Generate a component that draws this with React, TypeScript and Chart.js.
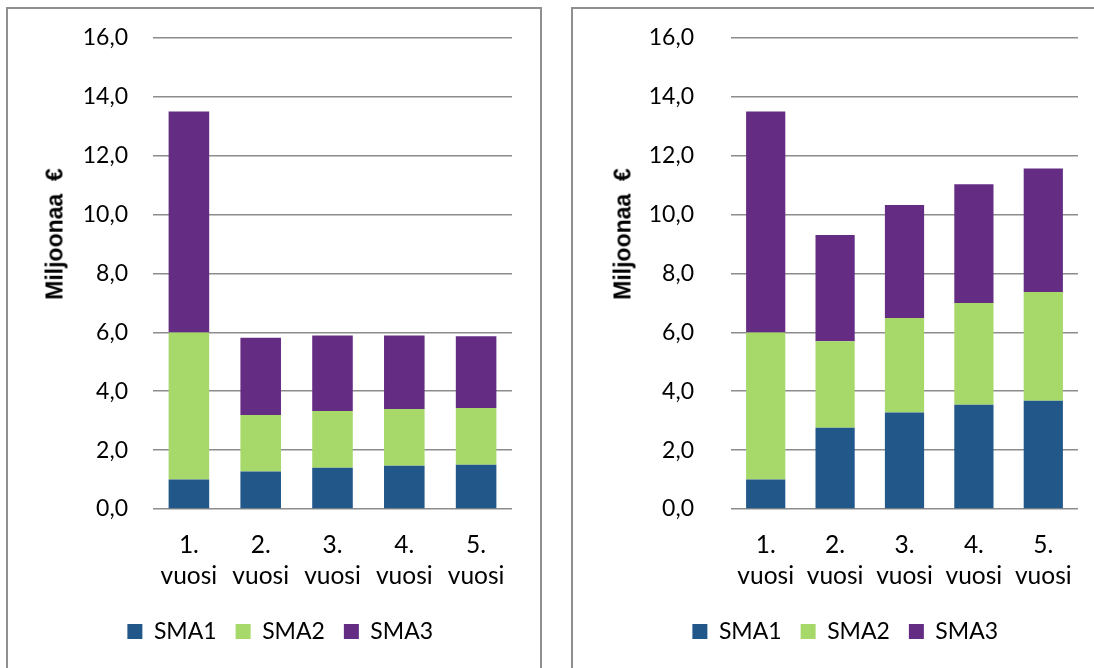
import React, { useEffect, useRef } from 'react';
import { Chart, registerables } from 'chart.js';

Chart.register(...registerables);

// ---- Data ----
const categories: string[][] = [
  ['1.', 'vuosi'],
  ['2.', 'vuosi'],
  ['3.', 'vuosi'],
  ['4.', 'vuosi'],
  ['5.', 'vuosi'],
];
const seriesNames = ['SMA1', 'SMA2', 'SMA3'];

const leftSMA1 = [1.0, 1.27, 1.4, 1.47, 1.5];
const leftSMA2 = [5.0, 1.92, 1.93, 1.93, 1.93];
const leftSMA3 = [7.5, 2.63, 2.56, 2.49, 2.44];

const rightSMA1 = [1.0, 2.76, 3.28, 3.54, 3.68];
const rightSMA2 = [5.0, 2.94, 3.21, 3.46, 3.69];
const rightSMA3 = [7.5, 3.61, 3.84, 4.03, 4.2];

const yMin = 0;
const yMax = 16;
const yStep = 2;
const yAxisTitle = 'Miljoonaa  €';

const colors = ['#22578A', '#A6D86A', '#652C84'];

const fontFamily = 'Lato, "Noto Sans", sans-serif';

type PanelProps = {
  series: number[][];
  left: number;
  top: number;
  width: number;
  height: number;
  padLeft: number;
  padRight: number;
  yWidth: number;
  tickGap: number;
};

function ChartPanel(props: PanelProps) {
  const ref = useRef<HTMLCanvasElement | null>(null);
  useEffect(() => {
    if (!ref.current) return;
    const chart = new Chart(ref.current, {
      type: 'bar',
      data: {
        labels: categories,
        datasets: props.series.map((vals, i) => ({
          label: seriesNames[i],
          data: vals,
          backgroundColor: colors[i],
          borderWidth: 0,
          barPercentage: 0.565,
          categoryPercentage: 1,
        })),
      },
      options: {
        responsive: false,
        animation: false,
        devicePixelRatio: 1,
        layout: {
          padding: { left: props.padLeft, right: props.padRight, top: 29, bottom: 15 },
        },
        plugins: {
          tooltip: { enabled: false },
          legend: {
            position: 'bottom',
            labels: {
              boxWidth: 15,
              boxHeight: 15,
              padding: 19,
              color: '#000',
              font: { family: fontFamily, size: 23 },
            },
          },
        },
        scales: {
          x: {
            stacked: true,
            grid: { display: false, drawTicks: false },
            border: { display: false },
            ticks: {
              color: '#000',
              padding: 20,
              maxRotation: 0,
              autoSkip: false,
              font: { family: fontFamily, size: 24.5, lineHeight: 1.29 },
            },
            afterFit: (scale: any) => {
              scale.height = 92;
            },
          },
          y: {
            stacked: true,
            min: yMin,
            max: yMax,
            ticks: {
              stepSize: yStep,
              color: '#000',
              padding: 0,
              font: { family: fontFamily, size: 23 },
              callback: (v: any) => Number(v).toFixed(1).replace('.', ','),
            },
            grid: {
              color: '#8c8c8c',
              lineWidth: 1.6,
              drawTicks: true,
              tickLength: props.tickGap,
              tickColor: 'rgba(0,0,0,0)',
            },
            border: { display: false },
            afterFit: (scale: any) => {
              scale.width = props.yWidth;
            },
          },
        },
      },
    });
    return () => chart.destroy();
  }, []);
  return (
    <canvas
      ref={ref}
      width={props.width}
      height={props.height}
      style={{ position: 'absolute', left: props.left, top: props.top, width: props.width, height: props.height }}
    />
  );
}

const titleStyle = (cx: number, cy: number): React.CSSProperties => ({
  position: 'absolute',
  left: cx,
  top: cy,
  transform: 'translate(-50%, -50%) rotate(-90deg)',
  whiteSpace: 'pre',
  fontFamily: '"Liberation Sans", Arial, sans-serif',
  fontWeight: 'bold',
  fontSize: 23,
  color: '#000',
  lineHeight: 'normal',
});

export default function App() {
  return (
    <div
      style={{
        position: 'absolute',
        left: 0,
        top: 0,
        width: 1094,
        height: 668,
        overflow: 'hidden',
        background: '#fff',
      }}
    >
      <div
        style={{
          position: 'absolute',
          left: 6,
          top: 7,
          width: 536,
          height: 720,
          border: '2px solid #8f8f8f',
          boxSizing: 'border-box',
        }}
      />
      <div
        style={{
          position: 'absolute',
          left: 571,
          top: 7,
          width: 600,
          height: 720,
          border: '2px solid #8f8f8f',
          boxSizing: 'border-box',
        }}
      />
      <ChartPanel
        series={[leftSMA1, leftSMA2, leftSMA3]}
        left={9}
        top={9}
        width={530}
        height={659}
        padLeft={39.5}
        padRight={27}
        yWidth={104.5}
        tickGap={25}
      />
      <ChartPanel
        series={[rightSMA1, rightSMA2, rightSMA3]}
        left={574}
        top={9}
        width={520}
        height={659}
        padLeft={38.5}
        padRight={16}
        yWidth={118.5}
        tickGap={37}
      />
      <div style={titleStyle(55, 233.5)}>{yAxisTitle}</div>
      <div style={titleStyle(622.5, 233.5)}>{yAxisTitle}</div>
    </div>
  );
}
